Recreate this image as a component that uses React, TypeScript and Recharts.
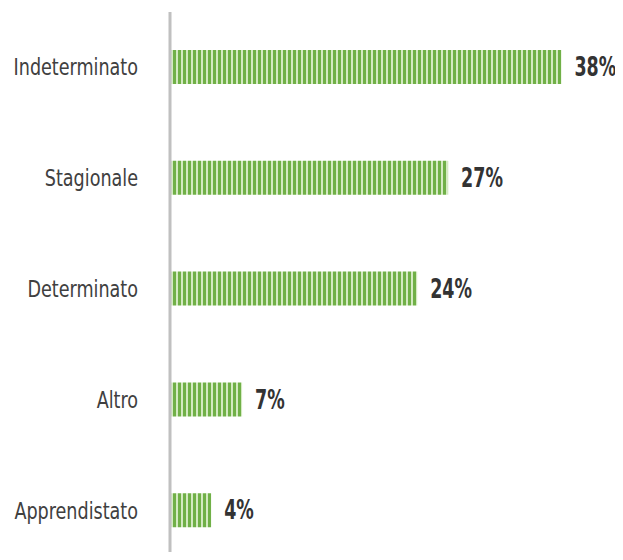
import { BarChart, Bar, XAxis, YAxis, LabelList } from 'recharts';

const categories = ['Indeterminato', 'Stagionale', 'Determinato', 'Altro', 'Apprendistato'];
const shares = [38, 27, 24, 7, 4];

const data = categories.map((name, i) => ({ name, value: shares[i] }));

const narrowFont = '"DejaVu Sans", sans-serif';

// category names, squeezed horizontally to mimic the condensed face
const CategoryTick = ({ x, y, payload }: any) => (
  <text
    transform={`translate(${x},${y}) scale(0.85,1)`}
    textAnchor="end"
    dominantBaseline="central"
    fill="#404040"
    fontSize={23}
    fontFamily={narrowFont}
    style={{ fontStretch: 'condensed' }}
  >
    {payload.value}
  </text>
);

const ValueLabel = ({ x, y, width, height, value }: any) => (
  <text
    transform={`translate(${x + width + 13},${y + height / 2}) scale(0.72,1)`}
    textAnchor="start"
    dominantBaseline="central"
    fill="#333333"
    fontSize={27}
    fontWeight={700}
    fontFamily={narrowFont}
    style={{ fontStretch: 'condensed' }}
  >
    {`${value}%`}
  </text>
);

export default function App() {
  return (
    <div style={{ width: 615, height: 544, overflow: 'hidden' }}>
      <BarChart
        width={615}
        height={558}
        data={data}
        layout="vertical"
        margin={{ top: 4, right: 41, left: 0, bottom: 0 }}
        barSize={34}
      >
        <defs>
          <pattern id="stripes" width="5" height="10" patternUnits="userSpaceOnUse">
            <rect x="0" y="0" width="5" height="10" fill="#70b047" />
            <rect x="3" y="0" width="2" height="10" fill="#d4eac2" />
          </pattern>
        </defs>
        <XAxis type="number" domain={[0, 40]} hide />
        <YAxis
          type="category"
          dataKey="name"
          width={162}
          axisLine={{ stroke: '#c0c0c0', strokeWidth: 3 }}
          tickLine={false}
          tickSize={0}
          tickMargin={32}
          tick={<CategoryTick />}
        />
        <Bar dataKey="value" fill="url(#stripes)" isAnimationActive={false}>
          <LabelList dataKey="value" content={<ValueLabel />} />
        </Bar>
      </BarChart>
    </div>
  );
}
